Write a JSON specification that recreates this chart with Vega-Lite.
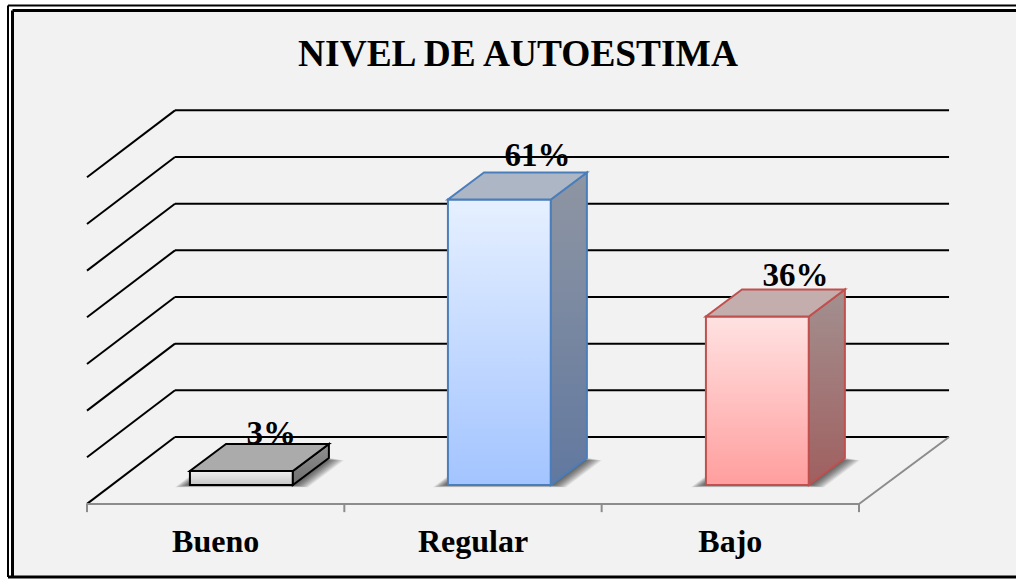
{
"$schema":"https://vega.github.io/schema/vega-lite/v6.json",
"width":1016,"height":580,"padding":0,"autosize":"none",
"background":"#ffffff",
"title":{"text":"NIVEL DE AUTOESTIMA","font":"Liberation Serif","fontSize":37.4,"fontWeight":"bold","color":"#000000","anchor":"middle","dx":10,"dy":73,"offset":0},
"view":{"stroke":null},
"datasets":{
"barras":[{"nivel":"Bueno","valor":3,"orden":0},{"nivel":"Regular","valor":61,"orden":1},{"nivel":"Bajo","valor":36,"orden":2}],
"rejilla":[{"linea":0},{"linea":10},{"linea":20},{"linea":30},{"linea":40},{"linea":50},{"linea":60},{"linea":70}],
"marcas":[{"marca":0},{"marca":1},{"marca":2},{"marca":3}]
},
"data":{"name":"barras"},
"transform":[
{"calculate":"datum.orden*1.0026+0.4","as":"xl"},
{"calculate":"datum.orden*1.0026+0.8","as":"xr"},
{"calculate":"[0,1]","as":"t"},
{"flatten":["t"]},
{"calculate":"datum.t*0.14","as":"ox"},
{"calculate":"datum.t*5.77","as":"oy"},
{"calculate":"datum.valor+datum.oy","as":"cy"},
{"calculate":"datum.xl+datum.ox","as":"tl"},
{"calculate":"datum.xr+datum.ox","as":"tr"}
],
"encoding":{},
"layer":[
{"data":{"values":[{"a":1}]},"transform":[],"mark":{"type":"rect","fill":"#f2f2f2","stroke":null},"encoding":{"x":{"datum":-0.2895,"type":"quantitative","scale":{"domain":[-0.3381,3.6102],"range":[0,1016],"nice":false,"zero":false},"axis":null},"x2":{"datum":3.6102},"y":{"datum":101.4,"type":"quantitative","scale":{"domain":[-20.3,103.63],"range":[580,0],"nice":false,"zero":false},"axis":null},"y2":{"datum":-19.66}}},
{"data":{"values":[{"x":-0.307,"x2":3.6102,"y":102.46,"y2":102.46},{"x":-0.307,"x2":-0.307,"y":102.46,"y2":-19.66}]},"transform":[],"mark":{"type":"rule","color":"#000000","strokeWidth":2},"encoding":{"x":{"field":"x","type":"quantitative"},"x2":{"field":"x2"},"y":{"field":"y","type":"quantitative"},"y2":{"field":"y2"}}},
{"data":{"values":[{"x":-0.2895,"x2":3.6102,"y":101.4,"y2":101.4},{"x":-0.2895,"x2":-0.2895,"y":101.4,"y2":-19.66},{"x":-0.307,"x2":3.6102,"y":-19.66,"y2":-19.66}]},"transform":[],"mark":{"type":"rule","color":"#000000","strokeWidth":3},"encoding":{"x":{"field":"x","type":"quantitative"},"x2":{"field":"x2"},"y":{"field":"y","type":"quantitative"},"y2":{"field":"y2"}}},
{"data":{"name":"rejilla"},"transform":[{"calculate":"datum.linea*0.997+10.26","as":"yb"},{"calculate":"0.342","as":"xi"},{"calculate":"3.35","as":"xf"},{"calculate":"datum.yb-14.3","as":"yf"},{"calculate":"0","as":"x0"}],"layer":[
{"mark":{"type":"rule","color":"#000000","strokeWidth":2},"encoding":{"x":{"field":"xi","type":"quantitative"},"x2":{"field":"xf"},"y":{"field":"yb","type":"quantitative"}}},
{"mark":{"type":"rule","color":"#000000","strokeWidth":2},"encoding":{"x":{"field":"x0","type":"quantitative"},"x2":{"field":"xi"},"y":{"field":"yf","type":"quantitative"},"y2":{"field":"yb"}}}
]},
{"data":{"name":"marcas"},"transform":[{"calculate":"-4.05","as":"y0"},{"calculate":"-5.8","as":"y1"}],"mark":{"type":"rule","color":"#8c8c8c","strokeWidth":2},"encoding":{"x":{"field":"marca","type":"quantitative"},"y":{"field":"y0","type":"quantitative"},"y2":{"field":"y1"}}},
{"data":{"values":[{"x":0,"x2":3,"y":-4.05,"y2":-4.05},{"x":3,"x2":3.35,"y":-4.05,"y2":10.26}]},"transform":[],"mark":{"type":"rule","color":"#8c8c8c","strokeWidth":2},"encoding":{"x":{"field":"x","type":"quantitative"},"x2":{"field":"x2"},"y":{"field":"y","type":"quantitative"},"y2":{"field":"y2"}}},
{"transform":[
{"calculate":"datum.orden*1.0026+0.4","as":"xl"},{"calculate":"datum.orden*1.0026+0.8","as":"xr"},
{"calculate":"[0,1]","as":"t"},{"flatten":["t"]},
{"calculate":"[0.004,0.01,0.016,0.022,0.028,0.034,0.04,0.046,0.052,0.058]","as":"e"},{"flatten":["e"]},
{"calculate":"datum.xl-datum.e+datum.t*0.14","as":"sl"},
{"calculate":"datum.xr+datum.e+datum.t*0.14","as":"sr"},
{"calculate":"datum.t*5.77-datum.e*8","as":"sy"},
{"calculate":"datum.nivel+datum.e","as":"grupo"}],
"mark":{"type":"area","orient":"horizontal","fill":"#000000","opacity":0.085,"stroke":null},
"encoding":{"y":{"field":"sy","type":"quantitative"},"x":{"field":"sl","type":"quantitative"},"x2":{"field":"sr"},"detail":{"field":"grupo"}}},
{"transform":[{"filter":"datum.t===0"},{"calculate":"0","as":"base"}],"layer":[
{"transform":[{"filter":"datum.nivel==='Bueno'"}],"mark":{"type":"rect","stroke":"#000000","strokeWidth":2,"fill":{"gradient":"linear","x1":0,"y1":0,"x2":0,"y2":1,"stops":[{"offset":0,"color":"#f0f0f0"},{"offset":1,"color":"#c6c6c6"}]}},"encoding":{"x":{"field":"xl","type":"quantitative"},"x2":{"field":"xr"},"y":{"field":"valor","type":"quantitative"},"y2":{"field":"base"}}},
{"transform":[{"filter":"datum.nivel==='Regular'"}],"mark":{"type":"rect","stroke":"#4a7ebb","strokeWidth":2,"fill":{"gradient":"linear","x1":0,"y1":0,"x2":0,"y2":1,"stops":[{"offset":0,"color":"#e6f0ff"},{"offset":1,"color":"#a3c4ff"}]}},"encoding":{"x":{"field":"xl","type":"quantitative"},"x2":{"field":"xr"},"y":{"field":"valor","type":"quantitative"},"y2":{"field":"base"}}},
{"transform":[{"filter":"datum.nivel==='Bajo'"}],"mark":{"type":"rect","stroke":"#c0504d","strokeWidth":2,"fill":{"gradient":"linear","x1":0,"y1":0,"x2":0,"y2":1,"stops":[{"offset":0,"color":"#ffe2e2"},{"offset":1,"color":"#ff9e9e"}]}},"encoding":{"x":{"field":"xl","type":"quantitative"},"x2":{"field":"xr"},"y":{"field":"valor","type":"quantitative"},"y2":{"field":"base"}}}
]},
{"transform":[{"filter":"datum.nivel==='Bueno'"}],"mark":{"type":"area","orient":"vertical","stroke":"#000000","strokeWidth":2,"fill":{"gradient":"linear","x1":0,"y1":0,"x2":0,"y2":1,"stops":[{"offset":0,"color":"#909090"},{"offset":1,"color":"#6e6e6e"}]}},"encoding":{"x":{"field":"tr","type":"quantitative"},"y":{"field":"cy","type":"quantitative"},"y2":{"field":"oy"}}},
{"transform":[{"filter":"datum.nivel==='Regular'"}],"mark":{"type":"area","orient":"vertical","stroke":"#4a7ebb","strokeWidth":2,"fill":{"gradient":"linear","x1":0,"y1":0,"x2":0,"y2":1,"stops":[{"offset":0,"color":"#8f96a3"},{"offset":1,"color":"#61789f"}]}},"encoding":{"x":{"field":"tr","type":"quantitative"},"y":{"field":"cy","type":"quantitative"},"y2":{"field":"oy"}}},
{"transform":[{"filter":"datum.nivel==='Bajo'"}],"mark":{"type":"area","orient":"vertical","stroke":"#c0504d","strokeWidth":2,"fill":{"gradient":"linear","x1":0,"y1":0,"x2":0,"y2":1,"stops":[{"offset":0,"color":"#a39090"},{"offset":1,"color":"#a05f5f"}]}},"encoding":{"x":{"field":"tr","type":"quantitative"},"y":{"field":"cy","type":"quantitative"},"y2":{"field":"oy"}}},
{"mark":{"type":"area","orient":"horizontal","strokeWidth":2},"encoding":{"y":{"field":"cy","type":"quantitative"},"x":{"field":"tl","type":"quantitative"},"x2":{"field":"tr"},"detail":{"field":"nivel"},"fill":{"field":"nivel","type":"nominal","legend":null,"scale":{"domain":["Bueno","Regular","Bajo"],"range":["#ababab","#adb6c4","#c4adad"]}},"stroke":{"field":"nivel","type":"nominal","legend":null,"scale":{"domain":["Bueno","Regular","Bajo"],"range":["#000000","#4a7ebb","#c0504d"]}}}},
{"transform":[{"filter":"datum.t===1"},{"calculate":"datum.xl+0.22","as":"lx"},{"calculate":"datum.cy-0.1+0.0256*datum.valor","as":"ly"},{"calculate":"datum.valor+'%'","as":"etiqueta"}],"mark":{"type":"text","font":"Liberation Serif","fontSize":33,"fontWeight":"bold","color":"#000000","align":"left","baseline":"alphabetic"},"encoding":{"x":{"field":"lx","type":"quantitative"},"y":{"field":"ly","type":"quantitative"},"text":{"field":"etiqueta"}}},
{"transform":[{"filter":"datum.t===0"},{"calculate":"datum.orden+0.5","as":"cx"},{"calculate":"-14.3","as":"cy2"}],"mark":{"type":"text","font":"Liberation Serif","fontSize":32,"fontWeight":"bold","color":"#000000","align":"center","baseline":"alphabetic"},"encoding":{"x":{"field":"cx","type":"quantitative"},"y":{"field":"cy2","type":"quantitative"},"text":{"field":"nivel"}}}
],
"resolve":{"scale":{"x":"shared","y":"shared"}}
}
